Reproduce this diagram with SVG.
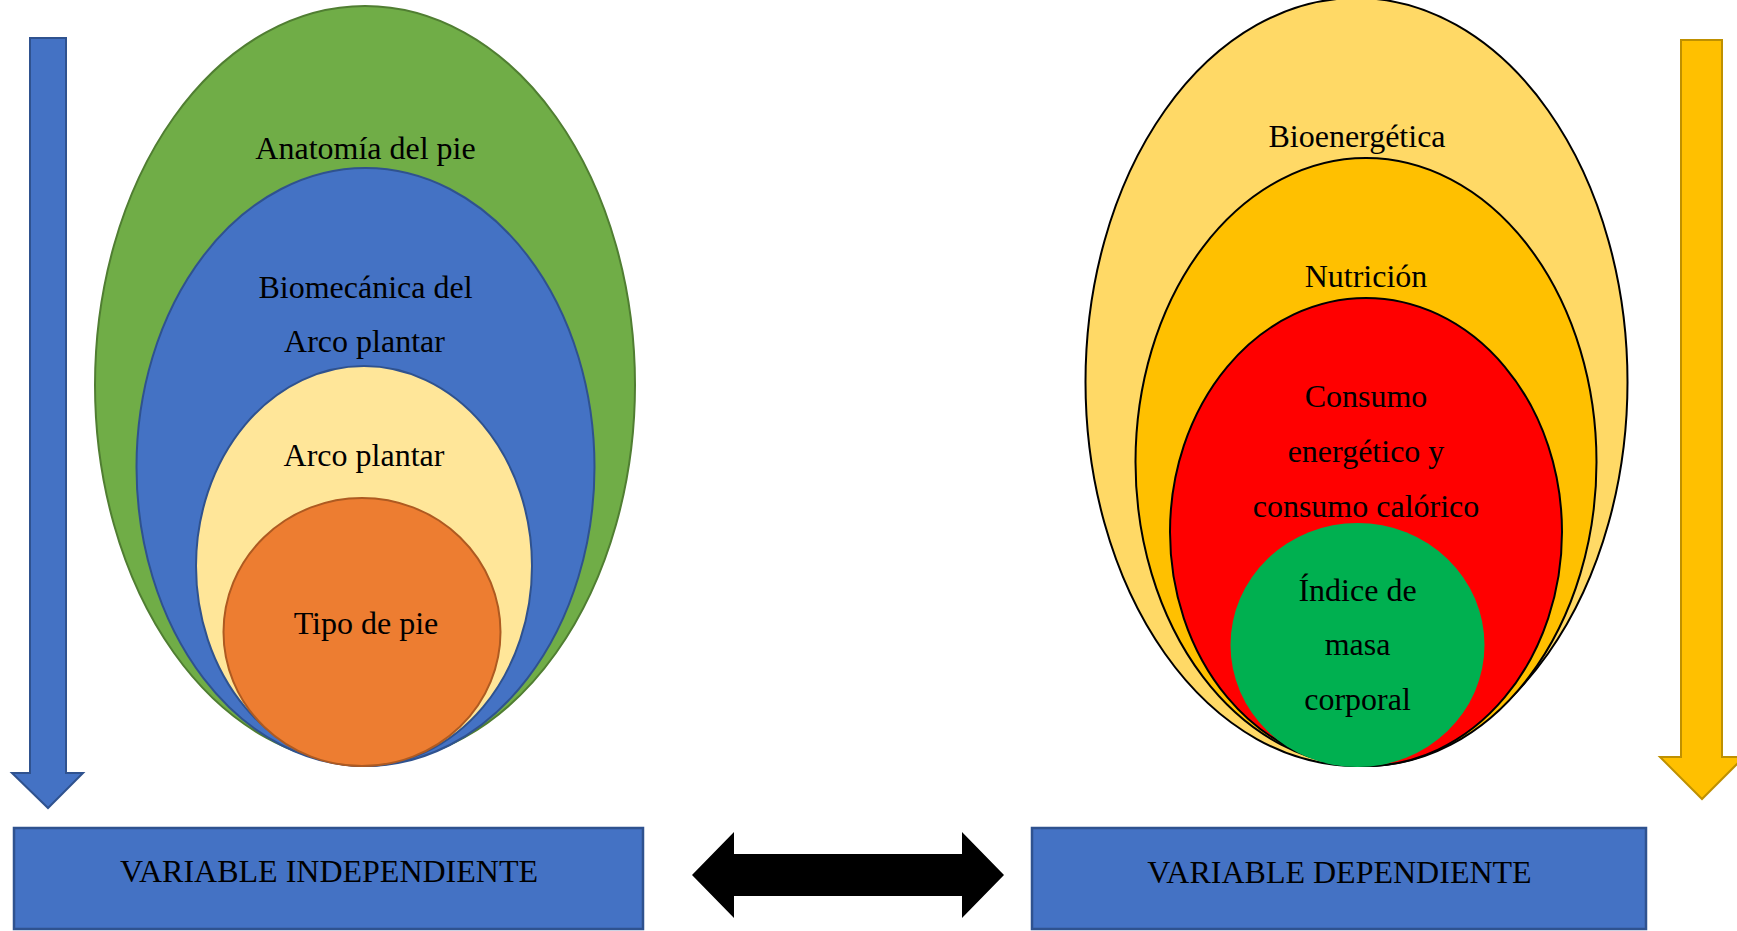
<svg xmlns="http://www.w3.org/2000/svg" width="1737" height="931" viewBox="0 0 1737 931">
<style>
text{font-family:"Liberation Serif","Times New Roman",serif;font-size:32px;fill:#000;text-anchor:middle}
.box{fill:#4472C4;stroke:#2F528F;stroke-width:2.5}
.rs{stroke:#000;stroke-width:2}
</style>
<rect width="1737" height="931" fill="#fff"/>
<g id="arrow-left">
<polygon points="30,38 66,38 66,773 83,773 48,808 12,773 30,773" fill="#4472C4" stroke="#2F528F" stroke-width="2"/>
</g>
<g id="arrow-right">
<polygon points="1681,40 1722,40 1722,757 1744,757 1702,799 1660,757 1681,757" fill="#FFC000" stroke="#BF9000" stroke-width="2"/>
</g>
<g id="anatomia">
<ellipse cx="365" cy="385" rx="270" ry="379" fill="#70AD47" stroke="#507E32" stroke-width="2"/>
<text x="365.5" y="159">Anatomía del pie</text>
</g>
<g id="biomecanica">
<ellipse cx="365.5" cy="467" rx="229" ry="299" fill="#4472C4" stroke="#2F528F" stroke-width="2"/>
<text x="365.5" y="298">Biomecánica del</text>
<text x="364.5" y="352">Arco plantar</text>
</g>
<g id="arco">
<ellipse cx="364" cy="566" rx="168" ry="200" fill="#FFE699" stroke="#2F528F" stroke-width="2"/>
<text x="364" y="466">Arco plantar</text>
</g>
<g id="tipo">
<ellipse cx="362" cy="632" rx="138.5" ry="134" fill="#ED7D31" stroke="#AE5A21" stroke-width="2"/>
<text x="366" y="634">Tipo de pie</text>
</g>
<g id="bioenergetica">
<ellipse cx="1356.5" cy="382" rx="271" ry="384" fill="#FFD966" class="rs"/>
<text x="1357" y="147">Bioenergética</text>
</g>
<g id="nutricion">
<ellipse cx="1366" cy="462" rx="230.5" ry="304" fill="#FFC000" class="rs"/>
<text x="1366" y="287">Nutrición</text>
</g>
<g id="consumo">
<ellipse cx="1366" cy="532" rx="196" ry="234" fill="#FF0000" class="rs"/>
<text x="1366" y="407">Consumo</text>
<text x="1366" y="462">energético y</text>
<text x="1366" y="517">consumo calórico</text>
</g>
<g id="imc">
<ellipse cx="1357.5" cy="645" rx="127" ry="122" fill="#00B050"/>
<text x="1357.5" y="601">Índice de</text>
<text x="1357.5" y="655">masa</text>
<text x="1357.5" y="710">corporal</text>
</g>
<g id="var-independiente">
<rect class="box" x="14" y="828" width="629" height="101"/>
<text x="329" y="882">VARIABLE INDEPENDIENTE</text>
</g>
<g id="var-dependiente">
<rect class="box" x="1032" y="828" width="614" height="101"/>
<text x="1339.5" y="883">VARIABLE DEPENDIENTE</text>
</g>
<g id="connectors">
<polygon points="692,875 734,832 734,854 962,854 962,832 1004,875 962,918 962,896 734,896 734,918" fill="#000"/>
</g>
</svg>
